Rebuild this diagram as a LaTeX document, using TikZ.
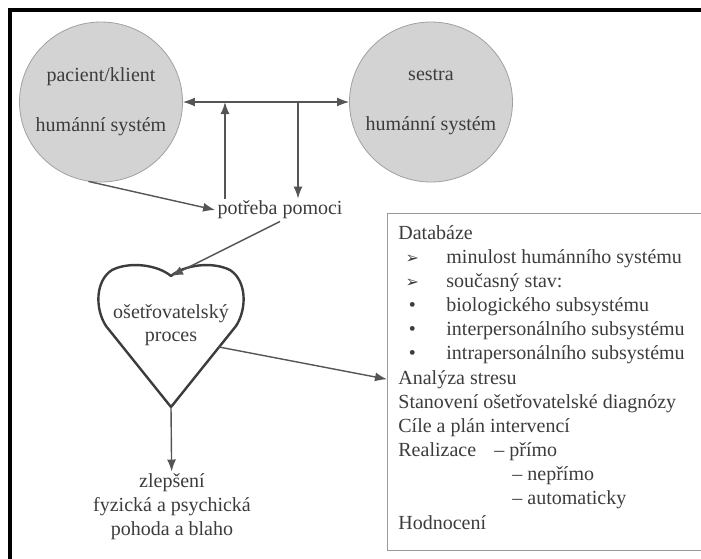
\documentclass[tikz,border=0pt]{standalone}
\usepackage{fontspec}
\setmainfont{Liberation Serif}
\newfontfamily\symfont{DejaVu Sans}
\usetikzlibrary{arrows.meta,shapes.geometric}

\definecolor{inkgray}{HTML}{3C3C3C}
\definecolor{linegray}{HTML}{555555}
\definecolor{discgray}{HTML}{D3D3D3}
\definecolor{rimgray}{HTML}{A0A0A0}
\definecolor{framegray}{HTML}{9A9A9A}

\newcommand{\bul}[2]{\hspace*{7pt}\makebox[0pt]{#1}\hspace*{17pt}#2}
\newcommand{\pointer}{{\symfont\footnotesize ➢}}

\tikzset{
  disc/.style={ellipse, draw=rimgray, fill=discgray, line width=0.4pt,
    minimum width=81.5pt, minimum height=80pt},
  txt/.style={text=inkgray, inner sep=1pt, font=\fontsize{10}{12}\selectfont},
  arr/.style={draw=linegray, line width=0.7pt, -{Latex[length=6pt,width=4.5pt]}},
  heartline/.style={draw=inkgray, line width=1.2pt, line join=round},
}

\begin{document}
\begin{tikzpicture}[x=0.5pt, y=-0.5pt]
    % Page and frame
    \useasboundingbox (0,0) rectangle (701,558);
    \draw[line width=2pt] (10,570) -- (10,10) -- (720,10);

    % Human systems
    \node[disc] (pac) at (101,102) {};
    \node[disc] (ses) at (431,102) {};
    \node[txt, align=center] (pactxt) at (pac) {pacient/klient\\[13pt]humánní systém};
    \node[txt, align=center] (sestxt) at (ses) {sestra\\[13pt]humánní systém};
    \draw[arr, {Latex[length=6pt,width=4.5pt]}-{Latex[length=6pt,width=4.5pt]}] (pac) -- (ses);

    % Need for help
    \node[txt] (need) at (280,210) {potřeba pomoci};
    \coordinate (jl) at (225,102);
    \coordinate (jr) at (298,102);
    \draw[arr] (need.north -| jl) -- (jl);
    \draw[arr] (jr) -- (need.north -| jr);
    \draw[arr] (pac.-99) -- (need.west);

    % Heart
    \coordinate (notch) at (171,276);
    \coordinate (tip) at (171,407);
    \coordinate (hright) at (219,347);
    \draw[heartline] (tip) -- (106,326) .. controls (95,309) and (95,281) .. (112,270)
        .. controls (130,261) and (158,265) .. (notch)
        .. controls (184,265) and (212,261) .. (230,270)
        .. controls (247,281) and (247,309) .. (236,326) -- cycle;
    \node[txt, align=center] (care) at (171,325) {ošetřovatelský\\[-0.5pt]proces};
    \draw[arr] (need.south) -- (notch);

    % Outcome
    \node[txt, align=center] (better) at (172,507) {zlepšení\\fyzická a psychická\\pohoda a blaho};
    \draw[arr] (tip) -- (better);

    % Process steps
    \coordinate (boxnw) at (387,213);
    \draw[draw=framegray, line width=0.5pt] (boxnw) rectangle (730,550);
    \foreach \entry [count=\i] in {Databáze,
        {\bul{\pointer}{minulost humánního systému}},
        {\bul{\pointer}{současný stav:}},
        {\bul{•}{biologického subsystému}},
        {\bul{•}{interpersonálního subsystému}},
        {\bul{•}{intrapersonálního subsystému}},
        Analýza stresu,
        Stanovení ošetřovatelské diagnózy,
        Cíle a plán intervencí,
        {\makebox[48pt][l]{Realizace}– přímo},
        {\hspace*{57pt}– nepřímo},
        {\hspace*{57pt}– automaticky},
        Hodnocení}
      \node[txt, anchor=base west] (db\i) at (396,{239+(\i-1)*24.17}) {\entry};
    \draw[arr] (hright) -- (db7.west -| boxnw);
\end{tikzpicture}
\end{document}
